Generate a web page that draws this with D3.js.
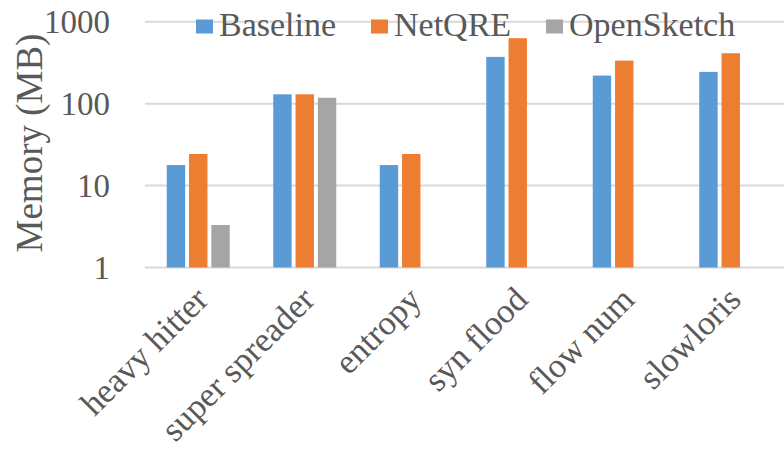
<!DOCTYPE html>
<html>
<head>
<meta charset="utf-8">
<script src="https://cdn.jsdelivr.net/npm/d3@7"></script>
<style>
  html, body { margin: 0; padding: 0; background: #fff; }
  svg { display: block; }
</style>
</head>
<body>
<svg id="chart" width="784" height="453"></svg>
<script>
// Memory usage per query, log scale
const categories = ["heavy hitter", "super spreader", "entropy", "syn flood", "flow num", "slowloris"];
const seriesNames = ["Baseline", "NetQRE", "OpenSketch"];
const baselineValues = [17.8, 130, 17.8, 372, 220, 244];
const netqreValues = [24.3, 130, 24.3, 629, 335, 412];
const openSketchValues = [3.3, 118, null, null, null, null];
const yTicks = [1, 10, 100, 1000];
const colors = ["#5B9BD5", "#ED7D31", "#A5A5A5"];

const series = [baselineValues, netqreValues, openSketchValues];
const FONT = "Liberation Serif";
const TEXT_COLOR = "#595959";

const svg = d3.select("#chart");
const plot = { left: 145, right: 784, top: 21.7, bottom: 267.5 };

const x = d3.scaleBand().domain(categories).range([plot.left, plot.right]).padding(0);
const y = d3.scaleLog().domain([1, 1000]).range([plot.bottom, plot.top]);

const barW = 18.4, barStep = 22.3;

// gridlines
svg.append("g").selectAll("line").data(yTicks).join("line")
  .attr("x1", plot.left).attr("x2", plot.right)
  .attr("y1", d => y(d)).attr("y2", d => y(d))
  .attr("stroke", "#d9d9d9").attr("stroke-width", 2);

// y axis labels
const yAxis = d3.axisLeft(y).tickValues(yTicks).tickFormat(d3.format("d")).tickSize(0).tickPadding(0);
const yg = svg.append("g").attr("transform", `translate(110,0)`).call(yAxis);
yg.select(".domain").remove();
yg.selectAll("text")
  .attr("font-family", FONT).attr("font-size", 33)
  .attr("fill", TEXT_COLOR)
  .attr("dy", "0.34em");

// bars
series.forEach((vals, si) => {
  svg.append("g").selectAll("rect")
    .data(categories.map((c, i) => ({ c, v: vals[i] })).filter(d => d.v != null))
    .join("rect")
    .attr("x", d => x(d.c) + x.bandwidth() / 2 + (si - 1) * barStep - barW / 2)
    .attr("width", barW)
    .attr("y", d => y(d.v))
    .attr("height", d => y(1) - y(d.v))
    .attr("fill", colors[si]);
});

// category labels
svg.append("g").selectAll("text").data(categories).join("text")
  .attr("transform", d => `translate(${x(d) + x.bandwidth() / 2 + 12},${plot.bottom + 34}) rotate(-45)`)
  .attr("text-anchor", "end")
  .attr("font-family", FONT).attr("font-size", 34.5).attr("fill", TEXT_COLOR)
  .text(d => d);

// y axis title
svg.append("text")
  .attr("transform", "translate(42,143) rotate(-90)")
  .attr("text-anchor", "middle")
  .attr("font-family", FONT).attr("font-size", 37).attr("fill", TEXT_COLOR)
  .text("Memory (MB)");

// legend
const legendX = [196, 371, 546];
const lg = svg.append("g");
seriesNames.forEach((name, i) => {
  lg.append("rect").attr("x", legendX[i]).attr("y", 19.5).attr("width", 17).attr("height", 14).attr("fill", colors[i]);
  lg.append("text").attr("x", legendX[i] + 23).attr("y", 36)
    .attr("font-family", FONT).attr("font-size", 34).attr("fill", TEXT_COLOR)
    .text(name);
});
</script>
</body>
</html>
